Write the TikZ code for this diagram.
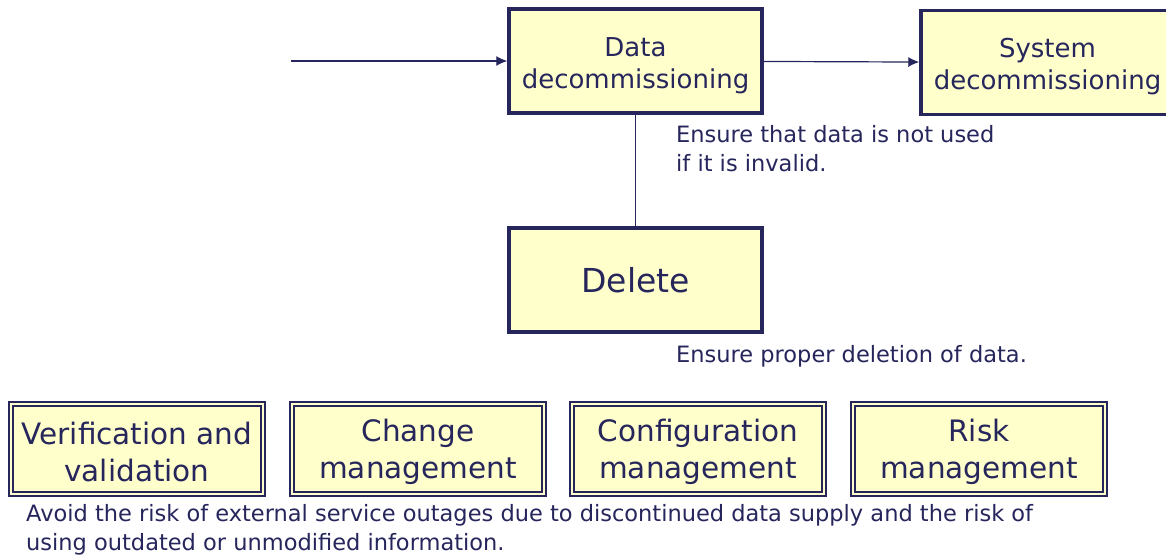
\documentclass[tikz,border=0pt]{standalone}
\usepackage{fontspec}
\setmainfont{DejaVu Sans}
\usetikzlibrary{positioning,arrows.meta}

\definecolor{navy}{RGB}{38,38,92}
\definecolor{paleyellow}{RGB}{255,255,204}

\tikzset{
    stagebox/.style={draw=navy, line width=3.5pt, fill=paleyellow, text=navy,
        minimum width=253pt, minimum height=104pt, inner sep=0pt, align=center,
        font=\fontsize{26}{32}\selectfont},
    practicebox/.style={draw=navy, line width=1.7pt, double=paleyellow, double distance=2pt,
        fill=paleyellow, text=navy, minimum width=252pt, minimum height=90pt, inner sep=0pt,
        align=center, font=\fontsize{29.5}{37}\selectfont},
    note/.style={text=navy, inner sep=0pt, anchor=base west, align=left,
        font=\fontsize{22.5}{29}\selectfont},
    flow/.style={draw=navy, line width=1.2pt, -{Latex[length=11pt,width=10pt]}}
}

\begin{document}
\begin{tikzpicture}[x=1pt,y=-1pt]
    \clip (0,0) rectangle (1166,554);
    \fill[white] (0,0) rectangle (1166,554);

    % decommissioning stages
    \node[stagebox] (datadec) at (635.5,61) {\\[-4pt]Data\\decommissioning};
    \node[stagebox] (sysdec) at (1047.5,62.5) {\\[-4pt]System\\decommissioning};
    \node[stagebox, font=\fontsize{33}{40}\selectfont] (delete) at (635.5,280) {Delete};
    \coordinate (start) at (291,61);

    \draw[flow] (start) -- (datadec);
    \draw[flow] (datadec) -- (sysdec);
    \draw[navy, line width=1.4pt] (datadec) -- (delete);

    % notes (base = last line)
    \node[note] (datanote) at (676,171) {Ensure that data is not used\\if it is invalid.};
    \node[note] (delnote) at (676,362) {Ensure proper deletion of data.};

    % supporting practices
    \node[practicebox] (verif) at (137,449) {\\[-9pt]Verification and\\validation};
    \node[practicebox] (change) at (418,449) {\\[-9pt]Change\\management};
    \node[practicebox] (config) at (698,449) {\\[-9pt]Configuration\\management};
    \node[practicebox] (risk) at (979,449) {\\[-9pt]Risk\\management};

    \node[note] (risknote) at (26,550) {Avoid the risk of external service outages due to discontinued data supply and the risk of\\using outdated or unmodified information.};
\end{tikzpicture}
\end{document}
